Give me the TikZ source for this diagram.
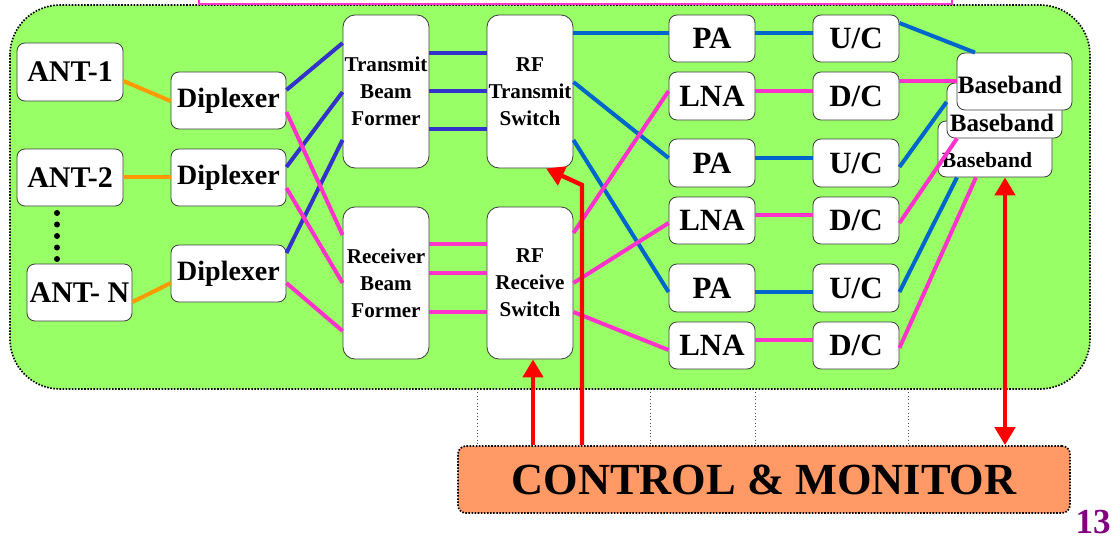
\documentclass[tikz,border=0pt]{standalone}
\usepackage{fontspec}
\setmainfont{Liberation Serif}
\usetikzlibrary{arrows.meta}
\definecolor{panelgreen}{HTML}{99FF66}
\definecolor{ctrlorange}{HTML}{FF9966}
\definecolor{orgline}{HTML}{FF9900}
\definecolor{blueA}{HTML}{3333CC}
\definecolor{blueB}{HTML}{0066CC}
\definecolor{pinkline}{HTML}{FF33CC}
\definecolor{slidepurple}{HTML}{800080}
\tikzset{
  bx/.style 2 args={minimum width=#1*0.025cm, minimum height=#2*0.025cm},
  box/.style={draw=black!75, line width=0.6pt, fill=white, rounded corners=0.2cm,
    inner sep=0pt, font=\bfseries, align=center},
  tallbox/.style={box, rounded corners=0.3cm, font=\bfseries\fontsize{15}{19.2}\selectfont},
  antfont/.style={font=\bfseries\fontsize{21.3}{24}\selectfont},
  dipfont/.style={font=\bfseries\fontsize{19.9}{23}\selectfont},
  ampfont/.style={font=\bfseries\fontsize{22}{25}\selectfont},
  orgc/.style={draw=orgline, line width=0.1cm},
  bluea/.style={draw=blueA, line width=0.1cm},
  blueb/.style={draw=blueB, line width=0.1cm},
  pinkc/.style={draw=pinkline, line width=0.1cm},
  redarrow/.style={draw=red, line width=0.11cm, -{Triangle[width=0.5cm,length=0.45cm]}},
  reddouble/.style={draw=red, line width=0.11cm, {Triangle[width=0.5cm,length=0.45cm]}-{Triangle[width=0.5cm,length=0.45cm]}},
  dotborder/.style={draw=black, line width=1.2pt, dash pattern=on 1.1pt off 1.1pt},
}
\begin{document}
\begin{tikzpicture}[x=0.025cm,y=-0.025cm]
\useasboundingbox (0,0) rectangle (1114,541);

% panel
\path[fill=panelgreen, dotborder, rounded corners=1.25cm] (10,5) rectangle (1090,389);
\draw[pinkline, line width=0.8pt] (199,-10) rectangle (952,4);

% thin dotted verticals below panel
\foreach \xx in {477,650,755,908}
  \draw[black!70, line width=0.4pt, dotted] (\xx,389) -- (\xx,446);

% control box
\node[box, fill=ctrlorange, draw=black, line width=1.2pt, dash pattern=on 1.1pt off 1.1pt,
  rounded corners=0.2cm, bx={612}{67}, font=\bfseries\fontsize{31.6}{36}\selectfont]
  (ctrl) at (764,479.5) {CONTROL \& MONITOR};
\node[anchor=base east, text=slidepurple, font=\bfseries\fontsize{25}{30}\selectfont, inner sep=0pt]
  (pagenum) at (1111,533) {13};

% antennas
\node[box, bx={106}{58}, antfont] (ant1) at (70,72) {ANT-1};
\node[box, bx={106}{57}, antfont] (ant2) at (70,177.5) {ANT-2};
\node[box, bx={105}{57}, antfont] (antN) at (79.5,292.5) {ANT- N};
\foreach \yy in {213,224.5,236,247.5,259}
  \fill (57,\yy) circle (3);

% diplexers
\node[box, bx={115}{57}, dipfont] (dip1) at (228.5,100.5) {Diplexer};
\node[box, bx={115}{57}, dipfont] (dip2) at (228.5,177.5) {Diplexer};
\node[box, bx={115}{57}, dipfont] (dip3) at (228.5,273.5) {Diplexer};

% beam formers and switches
\node[tallbox, bx={86}{153}] (txbf) at (386,91.5) {Transmit\\Beam\\Former};
\node[tallbox, bx={86}{152}] (rxbf) at (386,283) {Receiver\\Beam\\Former};
\node[tallbox, bx={86}{153}] (rftx) at (530,91.5) {RF\\Transmit\\Switch};
\node[tallbox, bx={86}{152}] (rfrx) at (530,283) {RF\\Receive\\Switch};

% amplifiers and converters
\node[box, bx={86}{47}, ampfont] (pa1) at (712,38.5) {PA};
\node[box, bx={86}{47}, ampfont] (uc1) at (856,38.5) {U/C};
\node[box, bx={86}{48}, ampfont] (lna1) at (712,96) {LNA};
\node[box, bx={86}{48}, ampfont] (dc1) at (856,96) {D/C};
\node[box, bx={86}{48}, ampfont] (pa2) at (712,163) {PA};
\node[box, bx={86}{48}, ampfont] (uc2) at (856,163) {U/C};
\node[box, bx={86}{47}, ampfont] (lna2) at (712,220.5) {LNA};
\node[box, bx={86}{47}, ampfont] (dc2) at (856,220.5) {D/C};
\node[box, bx={86}{48}, ampfont] (pa3) at (712,288) {PA};
\node[box, bx={86}{48}, ampfont] (uc3) at (856,288) {U/C};
\node[box, bx={86}{47}, ampfont] (lna3) at (712,345.5) {LNA};
\node[box, bx={86}{47}, ampfont] (dc3) at (856,345.5) {D/C};

% baseband stack
\node[box, bx={114}{56}] (bb3) at (995,149) {};
\node[font=\bfseries\fontsize{15.4}{18}\selectfont, inner sep=0pt] (bb3t) at (987,160) {Baseband};
\node[box, bx={115}{55}] (bb2) at (1004.5,110.5) {};
\node[font=\bfseries\fontsize{17.8}{20}\selectfont, inner sep=0pt] (bb2t) at (1002,123) {Baseband};
\node[box, bx={115}{57}] (bb1) at (1014.5,81.5) {};
\node[font=\bfseries\fontsize{17.8}{20}\selectfont, inner sep=0pt] (bb1t) at (1010,85) {Baseband};

% antenna to diplexer
\draw[orgc] (ant1.east |- 0,81) -- (dip1.west |- 0,101);
\draw[orgc] (ant2.east |- 0,177) -- (dip2.west |- 0,177);
\draw[orgc] (antN.east |- 0,302) -- (dip3.west |- 0,283);

% diplexer to beam formers
\draw[bluea] (dip1.east |- 0,90) -- (txbf.west |- 0,43);
\draw[bluea] (dip2.east |- 0,167) -- (txbf.west |- 0,92);
\draw[bluea] (dip3.east |- 0,253) -- (txbf.west |- 0,140);
\draw[pinkc] (dip1.east |- 0,112) -- (rxbf.west |- 0,235);
\draw[pinkc] (dip2.east |- 0,188) -- (rxbf.west |- 0,283);
\draw[pinkc] (dip3.east |- 0,283) -- (rxbf.west |- 0,331);

% beam formers to switches
\foreach \yy in {53,91,129}
  \draw[bluea] (txbf.east |- 0,\yy) -- (rftx.west |- 0,\yy);
\foreach \yy in {244,273,312}
  \draw[pinkc] (rxbf.east |- 0,\yy) -- (rfrx.west |- 0,\yy);

% switches to amplifiers
\draw[blueb] (rftx.east |- 0,33) -- (pa1.west |- 0,33);
\draw[blueb] (rftx.east |- 0,82) -- (pa2.west |- 0,158);
\draw[blueb] (rftx.east |- 0,140) -- (pa3.west |- 0,292);
\draw[pinkc] (rfrx.east |- 0,233) -- (lna1.west |- 0,91);
\draw[pinkc] (rfrx.east |- 0,283) -- (lna2.west |- 0,223);
\draw[pinkc] (rfrx.east |- 0,312) -- (lna3.west |- 0,350);

% amplifiers to converters
\draw[blueb] (pa1.east |- 0,33) -- (uc1.west |- 0,33);
\draw[pinkc] (lna1.east |- 0,91) -- (dc1.west |- 0,91);
\draw[blueb] (pa2.east |- 0,158) -- (uc2.west |- 0,158);
\draw[pinkc] (lna2.east |- 0,215) -- (dc2.west |- 0,215);
\draw[blueb] (pa3.east |- 0,292) -- (uc3.west |- 0,292);
\draw[pinkc] (lna3.east |- 0,340) -- (dc3.west |- 0,340);

% converters to baseband
\draw[blueb] (uc1.east |- 0,23) -- (bb1.north -| 975,0);
\draw[pinkc] (dc1.east |- 0,81) -- (bb1.west |- 0,81);
\draw[blueb] (uc2.east |- 0,167) -- (bb2.west |- 0,102);
\draw[pinkc] (dc2.east |- 0,223) -- (bb2.south -| 957,0);
\draw[blueb] (uc3.east |- 0,292) -- (bb3.south -| 957,0);
\draw[pinkc] (dc3.east |- 0,348) -- (bb3.south -| 976,0);

% control arrows
\coordinate (bend) at (582,185);
\draw[redarrow] (ctrl.north -| 533,0) -- (rfrx.south -| 533,0);
\draw[redarrow] (ctrl.north -| 582,0) -- (bend) -- (rftx.south -| 546,0);
\draw[reddouble] (bb3.south -| 1005,0) -- (ctrl.north -| 1005,0);
\end{tikzpicture}
\end{document}
